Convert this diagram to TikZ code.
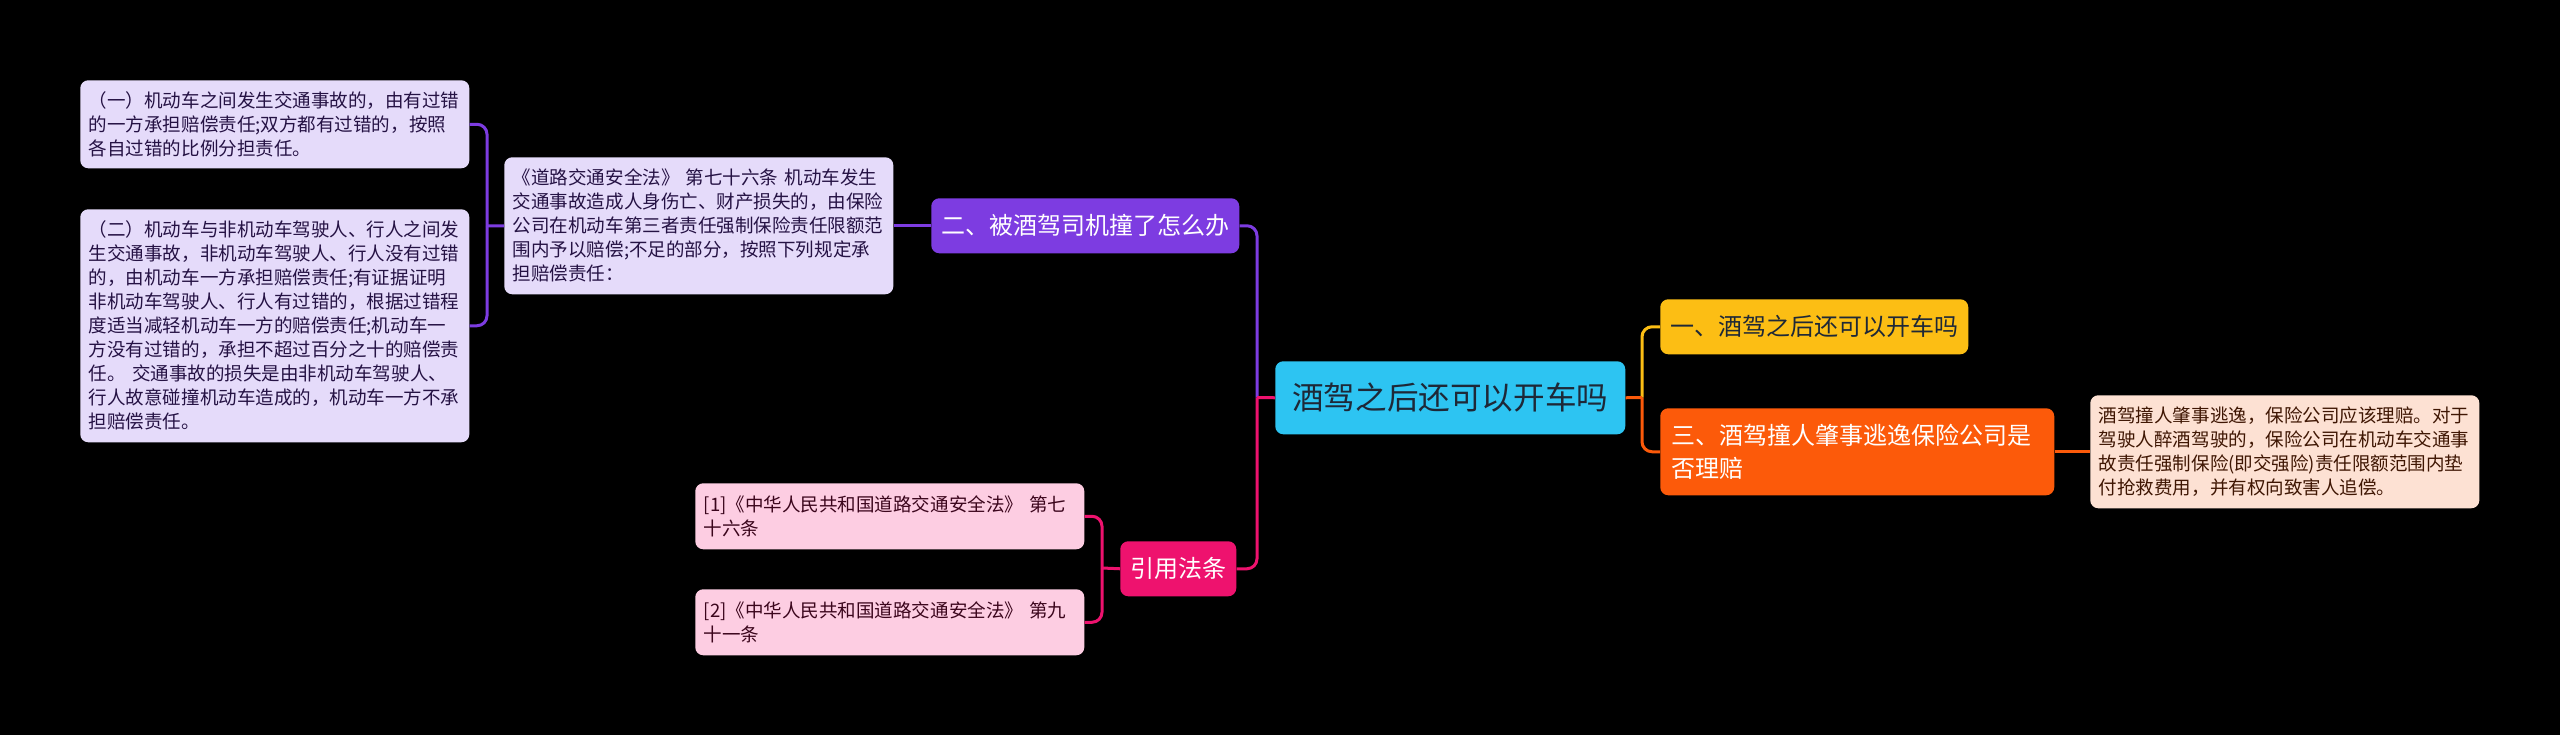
\documentclass[tikz,border=0pt]{standalone}
\usepackage{fontspec}
\setmainfont{Noto Sans CJK SC}
\usepackage{tikz}

\definecolor{rootc}{RGB}{45,196,242}
\definecolor{purc}{RGB}{125,60,225}
\definecolor{pinkc}{RGB}{238,18,110}
\definecolor{yelc}{RGB}{252,190,20}
\definecolor{orac}{RGB}{252,90,10}
\definecolor{lpurc}{RGB}{229,219,250}
\definecolor{lpinkc}{RGB}{253,205,226}
\definecolor{peachc}{RGB}{253,225,211}
\definecolor{inkc}{RGB}{30,40,55}

\tikzset{
	box/.style={rounded corners=6pt,anchor=north west,align=left,inner ysep=0pt},
	leaf/.style={box,font=\fontsize{13.9}{18}\selectfont,text width=279pt,inner xsep=6.4pt},
	branch/.style={box,font=\fontsize{18}{24.75}\selectfont,inner xsep=7.5pt,minimum height=41.25pt,text=white},
	link/.style={line width=2.25pt,rounded corners=7.5pt}
}

\begin{document}
\begin{tikzpicture}[x=0.75pt,y=0.75pt,yscale=-1,xscale=1]
	%set diagram to the size of the reference
	\fill [black] (0,0) rectangle (2560,735) ;
	\useasboundingbox (0,0) rectangle (2560,735) ;
	
	% Text Node
	\node [box,fill=rootc,text=inkc,font=\fontsize{23.7}{28}\selectfont,align=center,minimum width=262.5pt,minimum height=54.75pt] (root) at (1275,361) {酒驾之后还可以开车吗};
	% Text Node
	\node [branch,fill=purc] (qTwo) at (931,198) {二、被酒驾司机撞了怎么办};
	% Text Node
	\node [branch,fill=yelc,text=inkc] (qOne) at (1660,299) {一、酒驾之后还可以开车吗};
	% Text Node
	\node [branch,fill=orac,text width=279pt,inner xsep=8.25pt,minimum height=65.25pt] (qThree) at (1660,408) {三、酒驾撞人肇事逃逸保险公司是\\否理赔};
	% Text Node
	\node [branch,fill=pinkc] (quote) at (1120,541) {引用法条};
	
	% Text Node
	\node [leaf,fill=lpurc,text=purc!30!black,minimum height=102.75pt] (lawA) at (504,157) {《道路交通安全法》 第七十六条 机动车发生\\交通事故造成人身伤亡、财产损失的，由保险\\公司在机动车第三者责任强制保险责任限额范\\围内予以赔偿;不足的部分，按照下列规定承\\担赔偿责任：};
	% Text Node
	\node [leaf,fill=lpurc,text=purc!30!black,minimum height=66pt] (lfA) at (80,80) {（一）机动车之间发生交通事故的，由有过错\\的一方承担赔偿责任;双方都有过错的，按照\\各自过错的比例分担责任。};
	% Text Node
	\node [leaf,fill=lpurc,text=purc!30!black,minimum height=174.75pt] (lfB) at (80,209) {（二）机动车与非机动车驾驶人、行人之间发\\生交通事故，非机动车驾驶人、行人没有过错\\的，由机动车一方承担赔偿责任;有证据证明\\非机动车驾驶人、行人有过错的，根据过错程\\度适当减轻机动车一方的赔偿责任;机动车一\\方没有过错的，承担不超过百分之十的赔偿责\\任。 交通事故的损失是由非机动车驾驶人、\\行人故意碰撞机动车造成的，机动车一方不承\\担赔偿责任。};
	% Text Node
	\node [leaf,fill=peachc,text=orac!25!black,minimum height=84.75pt] (ans) at (2090,395) {酒驾撞人肇事逃逸，保险公司应该理赔。对于\\驾驶人醉酒驾驶的，保险公司在机动车交通事\\故责任强制保险(即交强险)责任限额范围内垫\\付抢救费用，并有权向致害人追偿。};
	% Text Node
	\node [leaf,fill=lpinkc,text=pinkc!25!black,minimum height=49.5pt] (citeA) at (695,483) {[1]《中华人民共和国道路交通安全法》 第七\\十六条};
	% Text Node
	\node [leaf,fill=lpinkc,text=pinkc!25!black,minimum height=49.5pt] (citeB) at (695,589) {[2]《中华人民共和国道路交通安全法》 第九\\十一条};
	
	\coordinate (jL) at (1257,397.5) ;
	\coordinate (jR) at (1642,397.5) ;
	\coordinate (jA) at (487,226) ;
	\coordinate (jC) at (1102,568) ;
	
	%Curve Lines
	\draw [link,purc] (qTwo.east) -| (jL) ;
	\draw [link,pinkc] (root.west) -- (jL) ;
	\draw [link,pinkc] (jL) |- (quote.east) ;
	%Curve Lines
	\draw [link,yelc] (jR) |- (qOne.west) ;
	\draw [link,orac] (root.east) -- (jR) ;
	\draw [link,orac] (jR) |- (qThree.west) ;
	%Straight Lines
	\draw [link,orac] (qThree.east) -- (ans.west) ;
	\draw [link,purc] (qTwo.west) -- (lawA.east) ;
	%Curve Lines
	\draw [link,purc] (lawA.west) -- (jA) ;
	\draw [link,purc] (jA) |- (lfA.east) ;
	\draw [link,purc] (jA) |- (lfB.east) ;
	%Curve Lines
	\draw [link,pinkc] (quote.west) -- (jC) ;
	\draw [link,pinkc] (jC) |- (citeA.east) ;
	\draw [link,pinkc] (jC) |- (citeB.east) ;
	
\end{tikzpicture}
\end{document}
